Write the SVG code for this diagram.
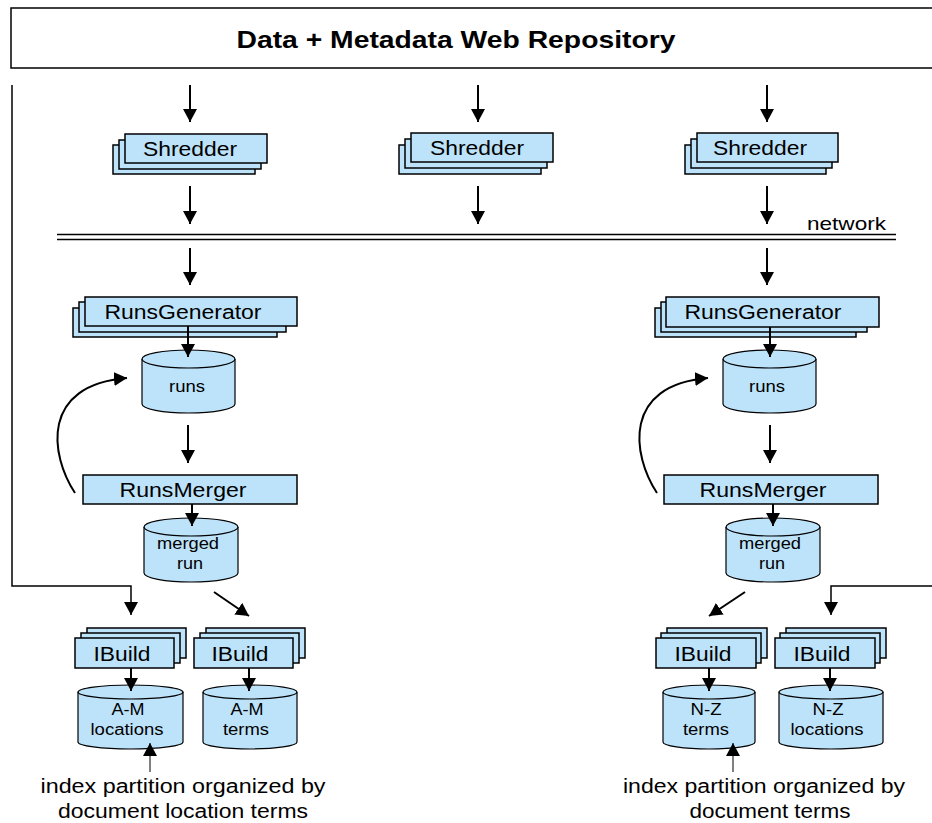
<svg xmlns="http://www.w3.org/2000/svg" width="932" height="823" viewBox="0 0 932 823">
<style>
.box{fill:#bde3fb;stroke:#000;stroke-width:1.5}
.cyl{fill:#bde3fb;stroke:#000;stroke-width:1.2}
.lbl{font-family:"Liberation Sans",Arial,sans-serif;font-size:20px;fill:#000;text-anchor:middle}
.clbl{font-family:"Liberation Sans",Arial,sans-serif;font-size:16px;fill:#000;text-anchor:middle}
.ln{fill:none;stroke:#000;stroke-width:2}
.thin{fill:none;stroke:#000;stroke-width:1}
</style>
<defs>
<marker id="ah" viewBox="0 0 13 14" refX="13" refY="7" markerWidth="13" markerHeight="14" markerUnits="userSpaceOnUse" orient="auto">
<path d="M0,0 L13,7 L0,14 Z" fill="#000"/>
</marker>
</defs>
<rect width="932" height="823" fill="#fff"/>

<g id="repository">
<rect x="11" y="8" width="930" height="60" fill="#fff" stroke="#000" stroke-width="1.5"/>
<text x="456" y="48" font-family="Liberation Sans,Arial,sans-serif" font-size="24" font-weight="bold" text-anchor="middle" textLength="439" lengthAdjust="spacingAndGlyphs">Data + Metadata Web Repository</text>
</g>

<g id="network">
<line x1="57" y1="234.5" x2="896" y2="234.5" stroke="#000" stroke-width="1.5"/>
<line x1="57" y1="239.5" x2="896" y2="239.5" stroke="#000" stroke-width="1.5"/>
<text x="846.5" y="230" font-family="Liberation Sans,Arial,sans-serif" font-size="19" text-anchor="middle" textLength="79" lengthAdjust="spacingAndGlyphs">network</text>
</g>

<g id="shredder1">
<rect class="box" x="113" y="145" width="142" height="29"/>
<rect class="box" x="119" y="140" width="142" height="29"/>
<rect class="box" x="125" y="134" width="142" height="29"/>
<text class="lbl" x="190" y="156" textLength="94" lengthAdjust="spacingAndGlyphs">Shredder</text>
</g>
<g id="shredder2">
<rect class="box" x="399" y="145" width="142" height="29"/>
<rect class="box" x="405" y="139" width="142" height="29"/>
<rect class="box" x="411" y="133" width="142" height="29"/>
<text class="lbl" x="477" y="155" textLength="94" lengthAdjust="spacingAndGlyphs">Shredder</text>
</g>
<g id="shredder3">
<rect class="box" x="685" y="145" width="141" height="29"/>
<rect class="box" x="691" y="139" width="141" height="29"/>
<rect class="box" x="697" y="133" width="141" height="29"/>
<text class="lbl" x="760" y="155" textLength="94" lengthAdjust="spacingAndGlyphs">Shredder</text>
</g>

<g id="runsgen1">
<rect class="box" x="73" y="308" width="204" height="29"/>
<rect class="box" x="79" y="302" width="207" height="30"/>
<rect class="box" x="85" y="297" width="212" height="29"/>
<text class="lbl" x="183" y="319" textLength="157" lengthAdjust="spacingAndGlyphs">RunsGenerator</text>
</g>
<g id="runsgen2">
<rect class="box" x="655" y="308" width="201" height="29"/>
<rect class="box" x="661" y="302" width="206" height="30"/>
<rect class="box" x="666" y="297" width="213" height="30"/>
<text class="lbl" x="763" y="319" textLength="157" lengthAdjust="spacingAndGlyphs">RunsGenerator</text>
</g>

<g id="runs1">
<path class="cyl" d="M142,359 V404 A46.5,9 0 0 0 235,404 V359"/>
<ellipse class="cyl" cx="188.5" cy="359" rx="46.5" ry="9"/>
<text class="clbl" x="187" y="392" textLength="36" lengthAdjust="spacingAndGlyphs">runs</text>
</g>
<g id="runs2">
<path class="cyl" d="M723,359 V404 A46.5,9 0 0 0 816,404 V359"/>
<ellipse class="cyl" cx="769.5" cy="359" rx="46.5" ry="9"/>
<text class="clbl" x="767" y="392" textLength="36" lengthAdjust="spacingAndGlyphs">runs</text>
</g>

<g id="merger1">
<rect class="box" x="83" y="475" width="214" height="29"/>
<text class="lbl" x="183" y="497" textLength="127" lengthAdjust="spacingAndGlyphs">RunsMerger</text>
</g>
<g id="merger2">
<rect class="box" x="664" y="475" width="214" height="29"/>
<text class="lbl" x="763" y="497" textLength="127" lengthAdjust="spacingAndGlyphs">RunsMerger</text>
</g>

<g id="merged1">
<path class="cyl" d="M144,527 V573 A47,9 0 0 0 238,573 V527"/>
<ellipse class="cyl" cx="191" cy="527" rx="47" ry="9"/>
<text class="clbl" x="188" y="549" textLength="62" lengthAdjust="spacingAndGlyphs">merged</text>
<text class="clbl" x="190" y="569" textLength="26" lengthAdjust="spacingAndGlyphs">run</text>
</g>
<g id="merged2">
<path class="cyl" d="M726,527 V573 A47,9 0 0 0 820,573 V527"/>
<ellipse class="cyl" cx="773" cy="527" rx="47" ry="9"/>
<text class="clbl" x="770" y="549" textLength="62" lengthAdjust="spacingAndGlyphs">merged</text>
<text class="clbl" x="772" y="569" textLength="26" lengthAdjust="spacingAndGlyphs">run</text>
</g>

<g id="ibuild1">
<rect class="box" x="87" y="628" width="99" height="30"/>
<rect class="box" x="81" y="633" width="99" height="30"/>
<rect class="box" x="75" y="638" width="99" height="30"/>
<text class="lbl" x="122" y="661" textLength="57" lengthAdjust="spacingAndGlyphs">IBuild</text>
</g>
<g id="ibuild2">
<rect class="box" x="206" y="628" width="99" height="30"/>
<rect class="box" x="200" y="633" width="99" height="30"/>
<rect class="box" x="194" y="638" width="99" height="30"/>
<text class="lbl" x="240" y="661" textLength="57" lengthAdjust="spacingAndGlyphs">IBuild</text>
</g>
<g id="ibuild3">
<rect class="box" x="667" y="628" width="100" height="30"/>
<rect class="box" x="661" y="633" width="100" height="30"/>
<rect class="box" x="656" y="638" width="100" height="30"/>
<text class="lbl" x="703" y="661" textLength="57" lengthAdjust="spacingAndGlyphs">IBuild</text>
</g>
<g id="ibuild4">
<rect class="box" x="786" y="628" width="100" height="30"/>
<rect class="box" x="780" y="633" width="100" height="30"/>
<rect class="box" x="775" y="638" width="100" height="30"/>
<text class="lbl" x="822" y="661" textLength="57" lengthAdjust="spacingAndGlyphs">IBuild</text>
</g>

<g id="am_locations">
<path class="cyl" d="M78,692 V742 A52.5,7 0 0 0 183,742 V692"/>
<ellipse class="cyl" cx="130.5" cy="692" rx="52.5" ry="7"/>
<text class="clbl" x="128" y="715" textLength="33" lengthAdjust="spacingAndGlyphs">A-M</text>
<text class="clbl" x="127" y="735" textLength="73" lengthAdjust="spacingAndGlyphs">locations</text>
</g>
<g id="am_terms">
<path class="cyl" d="M203,692 V742 A47,7 0 0 0 297,742 V692"/>
<ellipse class="cyl" cx="250" cy="692" rx="47" ry="7"/>
<text class="clbl" x="247" y="715" textLength="33" lengthAdjust="spacingAndGlyphs">A-M</text>
<text class="clbl" x="246" y="735" textLength="46" lengthAdjust="spacingAndGlyphs">terms</text>
</g>
<g id="nz_terms">
<path class="cyl" d="M663,692 V742 A46,7 0 0 0 755,742 V692"/>
<ellipse class="cyl" cx="709" cy="692" rx="46" ry="7"/>
<text class="clbl" x="706" y="715" textLength="31" lengthAdjust="spacingAndGlyphs">N-Z</text>
<text class="clbl" x="706" y="735" textLength="46" lengthAdjust="spacingAndGlyphs">terms</text>
</g>
<g id="nz_locations">
<path class="cyl" d="M779,692 V742 A52,7 0 0 0 883,742 V692"/>
<ellipse class="cyl" cx="831" cy="692" rx="52" ry="7"/>
<text class="clbl" x="828" y="715" textLength="31" lengthAdjust="spacingAndGlyphs">N-Z</text>
<text class="clbl" x="827" y="735" textLength="73" lengthAdjust="spacingAndGlyphs">locations</text>
</g>

<g id="label_left">
<text class="lbl" x="183" y="793" textLength="285" lengthAdjust="spacingAndGlyphs">index partition organized by</text>
<text class="lbl" x="183" y="818" textLength="250" lengthAdjust="spacingAndGlyphs">document location terms</text>
</g>
<g id="label_right">
<text class="lbl" x="764" y="793" textLength="282" lengthAdjust="spacingAndGlyphs">index partition organized by</text>
<text class="lbl" x="770" y="818" textLength="161" lengthAdjust="spacingAndGlyphs">document terms</text>
</g>

<g id="connectors">
<path class="ln" d="M190,85 V122" marker-end="url(#ah)"/>
<path class="ln" d="M478,85 V122" marker-end="url(#ah)"/>
<path class="ln" d="M767,85 V122" marker-end="url(#ah)"/>
<path class="ln" d="M190,186 V224" marker-end="url(#ah)"/>
<path class="ln" d="M478,186 V224" marker-end="url(#ah)"/>
<path class="ln" d="M767,186 V224" marker-end="url(#ah)"/>
<path class="ln" d="M190,248 V285" marker-end="url(#ah)"/>
<path class="ln" d="M767,248 V285" marker-end="url(#ah)"/>
<path class="ln" d="M188,326 V357" marker-end="url(#ah)"/>
<path class="ln" d="M770,327 V357" marker-end="url(#ah)"/>
<path class="ln" d="M188,425 V463" marker-end="url(#ah)"/>
<path class="ln" d="M770,425 V463" marker-end="url(#ah)"/>
<path class="ln" d="M192,504 V526" marker-end="url(#ah)"/>
<path class="ln" d="M773,504 V526" marker-end="url(#ah)"/>
<path class="ln" d="M75,493 C50,455 40,385 127,378" marker-end="url(#ah)"/>
<path class="ln" d="M657,493 C632,455 622,385 708,378" marker-end="url(#ah)"/>
<path d="M12,85 V586 H131 V615" fill="none" stroke="#000" stroke-width="1.5" marker-end="url(#ah)"/>
<path d="M932,586 H831 V615" fill="none" stroke="#000" stroke-width="1.5" marker-end="url(#ah)"/>
<path class="ln" d="M214,592 L249,616" marker-end="url(#ah)"/>
<path class="ln" d="M745,592 L709,616" marker-end="url(#ah)"/>
<path class="ln" d="M131,668 V691" marker-end="url(#ah)"/>
<path class="ln" d="M249,668 V691" marker-end="url(#ah)"/>
<path class="ln" d="M709,668 V691" marker-end="url(#ah)"/>
<path class="ln" d="M830,668 V691" marker-end="url(#ah)"/>
<path class="thin" d="M150,772 V743" marker-end="url(#ah)"/>
<path class="thin" d="M733,772 V743" marker-end="url(#ah)"/>
</g>
</svg>
